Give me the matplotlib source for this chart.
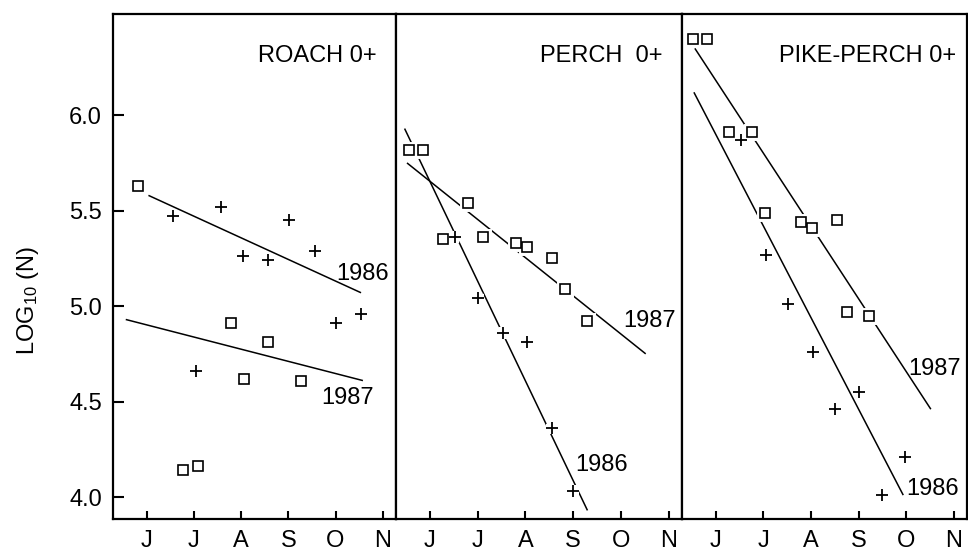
import matplotlib
matplotlib.use("Agg")
import matplotlib.pyplot as plt

plt.rcParams["font.family"] = ["Liberation Sans", "DejaVu Sans"]
plt.rcParams["mathtext.default"] = "regular"

# months: 6 = June ... 11 = November
month_ticks = [6, 7, 8, 9, 10, 11]
month_labels = ["J", "J", "A", "S", "O", "N"]

# ROACH 0+
roach_x_86 = [6.57, 7.05, 7.58, 8.05, 8.57, 9.02, 9.57, 10.00, 10.54]
roach_y_86 = [5.47, 4.66, 5.52, 5.26, 5.24, 5.45, 5.29, 4.91, 4.96]
roach_x_87 = [5.81, 6.78, 7.08, 7.79, 8.07, 8.57, 9.27]
roach_y_87 = [5.63, 4.14, 4.16, 4.91, 4.62, 4.81, 4.61]
roach_fit_x_86, roach_fit_y_86 = [6.04, 10.54], [5.58, 5.07]
roach_fit_x_87, roach_fit_y_87 = [5.56, 10.58], [4.93, 4.61]

# PERCH 0+
perch_x_86 = [6.53, 7.01, 7.53, 8.04, 8.56, 9.00]
perch_y_86 = [5.36, 5.04, 4.86, 4.81, 4.36, 4.03]
perch_x_87 = [5.56, 5.85, 6.27, 6.80, 7.11, 7.81, 8.04, 8.56, 8.82, 9.28]
perch_y_87 = [5.82, 5.82, 5.35, 5.54, 5.36, 5.33, 5.31, 5.25, 5.09, 4.92]
perch_fit_x_86, perch_fit_y_86 = [5.47, 9.30], [5.93, 3.93]
perch_fit_x_87, perch_fit_y_87 = [5.52, 10.52], [5.75, 4.75]

# PIKE-PERCH 0+
pike_x_86 = [6.52, 7.06, 7.52, 8.04, 8.50, 9.00, 9.50, 9.98]
pike_y_86 = [5.87, 5.27, 5.01, 4.76, 4.46, 4.55, 4.01, 4.21]
pike_x_87 = [5.52, 5.81, 6.27, 6.77, 7.04, 7.79, 8.02, 8.54, 8.75, 9.23]
pike_y_87 = [6.40, 6.40, 5.91, 5.91, 5.49, 5.44, 5.41, 5.45, 4.97, 4.95]
pike_fit_x_86, pike_fit_y_86 = [5.54, 9.94], [6.12, 4.01]
pike_fit_x_87, pike_fit_y_87 = [5.56, 10.52], [6.35, 4.46]

panels = [
    dict(title="ROACH 0+", title_pos=(10.87, 6.28), title_ha="right",
         x86=roach_x_86, y86=roach_y_86, x87=roach_x_87, y87=roach_y_87,
         f86=(roach_fit_x_86, roach_fit_y_86), f87=(roach_fit_x_87, roach_fit_y_87),
         lab86=(10.01, 5.136), lab87=(9.69, 4.487)),
    dict(title="PERCH  0+", title_pos=(10.87, 6.28), title_ha="right",
         x86=perch_x_86, y86=perch_y_86, x87=perch_x_87, y87=perch_y_87,
         f86=(perch_fit_x_86, perch_fit_y_86), f87=(perch_fit_x_87, perch_fit_y_87),
         lab86=(9.05, 4.136), lab87=(10.05, 4.89)),
    dict(title="PIKE-PERCH 0+", title_pos=(7.33, 6.28), title_ha="left",
         x86=pike_x_86, y86=pike_y_86, x87=pike_x_87, y87=pike_y_87,
         f86=(pike_fit_x_86, pike_fit_y_86), f87=(pike_fit_x_87, pike_fit_y_87),
         lab86=(10.0, 4.01), lab87=(10.04, 4.64)),
]

W, H = 968, 556
fig = plt.figure(figsize=(W / 100, H / 100), dpi=100)
edges = [113, 396, 682, 967]
bottom, top = 519, 14
FS = 17

for i, p in enumerate(panels):
    ax = fig.add_axes([edges[i] / W, 1 - bottom / H,
                       (edges[i + 1] - edges[i]) / W, (bottom - top) / H])
    ax.set_xlim(5.29, 11.28)
    ax.set_ylim(3.885, 6.53)

    # fitted lines
    for fx, fy in (p["f86"], p["f87"]):
        ax.plot(fx, fy, color="black", lw=1.1, zorder=2, solid_capstyle="butt")

    # white halo so lines break around the points
    ax.plot(p["x86"], p["y86"], ls="none", marker="+", ms=8, mew=6,
            color="white", zorder=3)
    ax.plot(p["x87"], p["y87"], ls="none", marker="s", ms=7.5, mew=5,
            mfc="white", mec="white", zorder=3)

    ax.plot(p["x86"], p["y86"], ls="none", marker="+", ms=8, mew=1.3,
            color="black", zorder=4)
    ax.plot(p["x87"], p["y87"], ls="none", marker="s", ms=7, mew=1.2,
            mfc="white", mec="black", zorder=4)

    ax.text(*p["title_pos"], p["title"], ha=p["title_ha"], va="baseline",
            fontsize=FS, clip_on=False)
    ax.text(*p["lab86"], "1986", ha="left", va="baseline", fontsize=FS)
    ax.text(*p["lab87"], "1987", ha="left", va="baseline", fontsize=FS)

    ax.set_xticks(month_ticks)
    ax.set_xticklabels(month_labels)
    ax.tick_params(axis="x", direction="in", length=6, width=1.5,
                   labelsize=FS, pad=8)
    if i == 0:
        ax.set_yticks([4.0, 4.5, 5.0, 5.5, 6.0])
        ax.set_yticklabels(["4.0", "4.5", "5.0", "5.5", "6.0"])
        ax.tick_params(axis="y", direction="in", length=8, width=1.5,
                       labelsize=FS, pad=8)
    else:
        ax.set_yticks([])

    for s in ax.spines.values():
        s.set_linewidth(1.6)
        s.set_zorder(5)

fig.text(28 / W, 1 - 300 / H, "LOG$_{10}$ (N)", rotation=90,
         ha="center", va="center", fontsize=FS)

fig.savefig("out.png", dpi=100)
